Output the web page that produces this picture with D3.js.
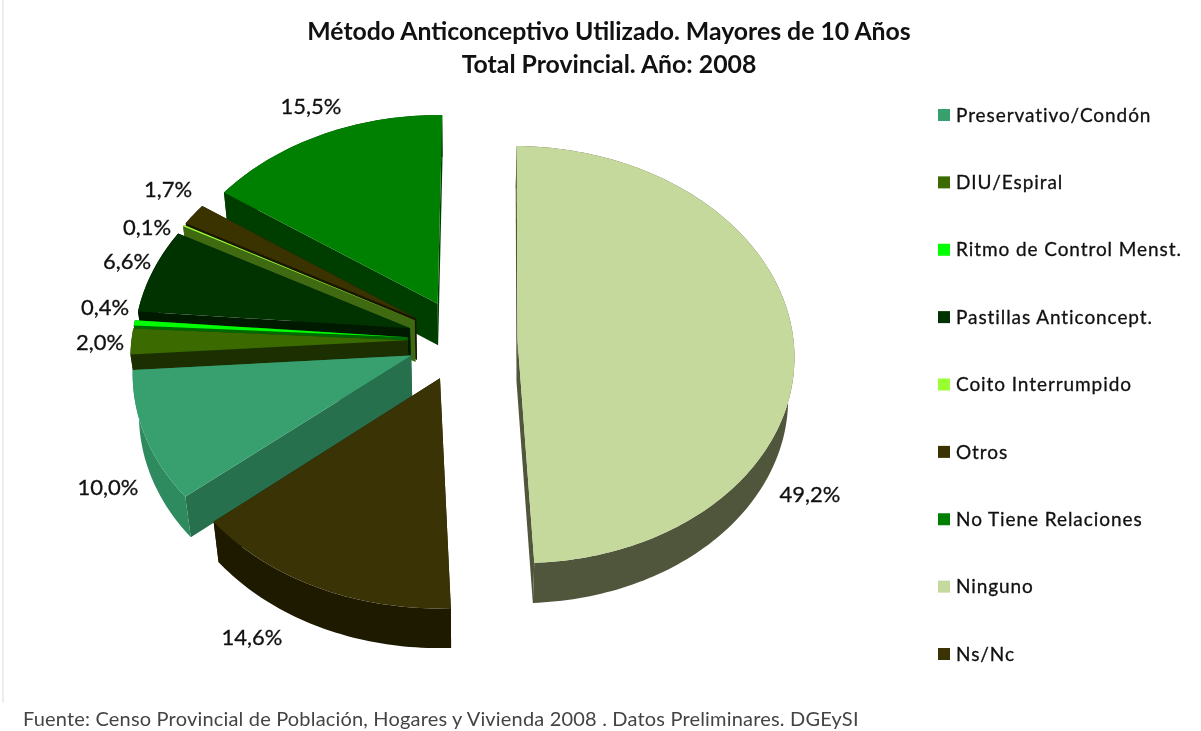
<!DOCTYPE html>
<html><head><meta charset="utf-8">
<script src="https://cdn.jsdelivr.net/npm/d3@7"></script>
<style>
html,body{margin:0;padding:0;background:#fff}
svg{display:block;filter:blur(0.45px)}
text{font-family:Lato,"Open Sans",sans-serif;fill:#111}
</style></head><body>
<svg id="c" width="1201" height="731"></svg>
<script>
const categories = ["Preservativo/Condón","DIU/Espiral","Ritmo de Control Menst.","Pastillas Anticoncept.","Coito Interrumpido","Otros","No Tiene Relaciones","Ninguno","Ns/Nc"];
const values = [10.0,2.0,0.4,6.6,0.1,1.7,15.5,49.2,14.6];
const valueLabels = ["10,0%","2,0%","0,4%","6,6%","0,1%","1,7%","15,5%","49,2%","14,6%"];
const topColors = ["#37A06E","#3B6A00","#00FF00","#003300","#99FF33","#3A3300","#008000","#C6D99C","#3A3305"];
const arcWallColors = ["#2E8A5F","#1B2F00","#006A00","#001A00","#4D7A1A","#1A1600","#003E00","#50563B","#1E1A00"];
const radWallColors = ["#26704E","#1B2F00","#006A00","#001A00","#3F6A12","#1A1600","#003E00","#50563B","#1E1A00"];
const titleLines = ["Método Anticonceptivo Utilizado. Mayores de 10 Años","Total Provincial. Año: 2008"];
const footer = "Fuente: Censo Provincial de Población, Hogares y Vivienda 2008 . Datos Preliminares. DGEySI";

// layout
const labelX = [108,100,105,127,147,168,311,810,252];
const labelY = [487,342,307,261,227,189,106,494,637];
const X0=462.5,Y0=340,R=276,E=55,H=64,CAM=2500,TILT=48.75*Math.PI/180,START=230.1*Math.PI/180;
const sinT=Math.sin(TILT),cosT=Math.cos(TILT);

function proj(u,v,w){
  const sy=v*sinT-w*cosT, t=v*cosT+w*sinT, s=CAM/(CAM-t);
  return [X0+u*s,Y0+sy*s];
}
const svg=d3.select("#c");
const line=d3.line().x(d=>d[0]).y(d=>d[1]);
const arcs=d3.pie().sort(null).startAngle(START).endAngle(START+2*Math.PI)(values);

const slices=arcs.map((a,i)=>{
  const mid=(a.startAngle+a.endAngle)/2;
  const du=E*Math.sin(mid),dv=-E*Math.cos(mid);
  const n=Math.max(3,Math.ceil((a.endAngle-a.startAngle)/0.02));
  const angs=d3.range(n+1).map(k=>a.startAngle+(a.endAngle-a.startAngle)*k/n);
  const rim=angs.map(t=>[du+R*Math.sin(t),dv-R*Math.cos(t)]);
  return {i,du,dv,rim,mid};
});
slices.sort((a,b)=>(a.dv+0.6*R*-Math.cos(a.mid))-(b.dv+0.6*R*-Math.cos(b.mid)));

slices.forEach(s=>{
  const g=svg.append("g");
  const top=[[s.du,s.dv],...s.rim];
  const quad=p=>[proj(p[0][0],p[0][1],0),proj(p[1][0],p[1][1],0),proj(p[1][0],p[1][1],-H),proj(p[0][0],p[0][1],-H)];
  const first=s.rim[0],last=s.rim[s.rim.length-1],c=[s.du,s.dv];
  const walls=[
    {pts:quad([c,first]),col:radWallColors[s.i],d:(c[1]+first[1])/2},
    {pts:quad([c,last]),col:radWallColors[s.i],d:(c[1]+last[1])/2},
    {pts:[...s.rim.map(p=>proj(p[0],p[1],0)),...s.rim.slice().reverse().map(p=>proj(p[0],p[1],-H))],col:arcWallColors[s.i],d:s.dv-R*Math.cos(s.mid)}
  ].sort((a,b)=>a.d-b.d);
  walls.forEach(w=>g.append("path").attr("d",line(w.pts)+"Z").attr("fill",w.col));
  g.append("path").attr("d",line(top.map(p=>proj(p[0],p[1],0)))+"Z").attr("fill",topColors[s.i]);
});

svg.append("g").selectAll("text").data(valueLabels).join("text")
  .attr("x",(d,i)=>labelX[i]).attr("y",(d,i)=>labelY[i]).attr("dy","0.35em")
  .attr("text-anchor","middle").attr("font-size",22).attr("stroke","#111").attr("stroke-width",0.3).text(d=>d);

svg.append("g").selectAll("text").data(titleLines).join("text")
  .attr("x",609).attr("y",(d,i)=>31+i*33).attr("dy","0.35em").attr("text-anchor","middle")
  .attr("font-size",24.8).attr("font-weight",700).text(d=>d);

const ly=d3.scalePoint().domain(categories).range([115,654]);
const leg=svg.append("g").selectAll("g").data(categories).join("g").attr("transform",d=>`translate(0,${ly(d)})`);
leg.append("rect").attr("x",938).attr("y",-6).attr("width",12).attr("height",12).attr("fill",(d,i)=>topColors[i]);
leg.append("text").attr("x",956).attr("dy","0.35em").attr("font-size",19).attr("letter-spacing",0.92).attr("stroke","#111").attr("stroke-width",0.3).text(d=>d);

svg.append("line").attr("x1",3).attr("x2",3).attr("y1",0).attr("y2",703).attr("stroke","#ddd");
svg.append("text").attr("x",23).attr("y",719).attr("dy","0.35em").attr("font-size",20).attr("letter-spacing",0.18).style("fill","#444").text(footer);
</script></body></html>
